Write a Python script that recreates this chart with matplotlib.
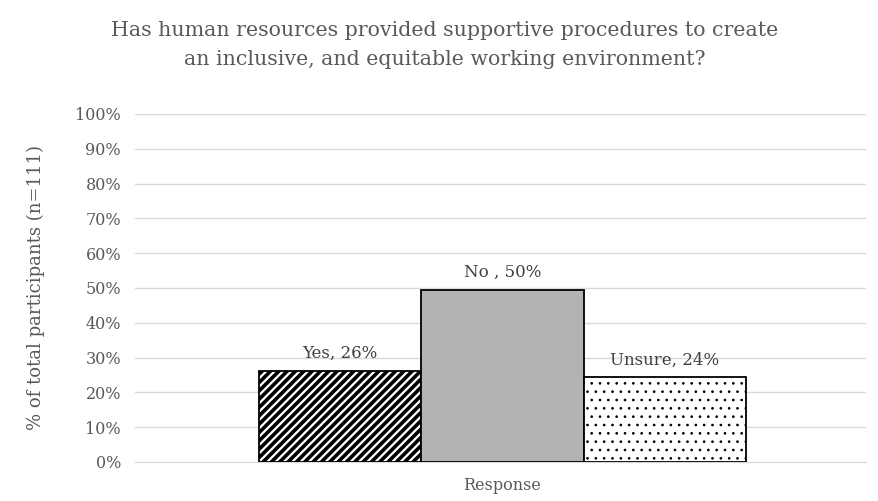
import matplotlib.pyplot as plt
import numpy as np

plt.rcParams['font.family'] = ['DejaVu Serif']

categories = ["Yes", "No ", "Unsure"]
values = [26.1, 49.5, 24.3]
labels = ["Yes, 26%", "No , 50%", "Unsure, 24%"]
colors = ["white", "#b3b3b3", "white"]
hatches = ["////", "", ".."]
hatch_widths = [2.6, 1.0, 0.7]

fig = plt.figure(figsize=(8.79, 5.01), dpi=100)
ax = fig.add_axes([135/879, 1 - 462/501, 731/879, 348/501])

pos = np.arange(len(categories)) - 1
for p, v, c, h, hw in zip(pos, values, colors, hatches, hatch_widths):
    plt.rcParams['hatch.linewidth'] = hw
    ax.bar(p, v, width=1.0, color=c, edgecolor="black", linewidth=1.3, hatch=h, zorder=3)

for p, v, t in zip(pos, values, labels):
    ax.text(p, v + 2.6, t, ha="center", va="bottom", fontsize=12, color="#404040")

ax.set_xlim(-2.262, 2.238)
ax.set_ylim(0, 100)
ax.set_yticks(np.arange(0, 101, 10))
ax.set_yticklabels([f"{t}%" for t in range(0, 101, 10)], fontsize=11.5, color="#595959")
ax.set_xticks([0])
ax.set_xticklabels(["Response"], fontsize=11.5, color="#595959")
ax.tick_params(axis="y", length=0, pad=10)
ax.tick_params(axis="x", length=0, pad=11)
ax.grid(axis="y", color="#d9d9d9", linewidth=1, zorder=0)
for s in ["top", "right", "left"]:
    ax.spines[s].set_visible(False)
ax.spines["bottom"].set_color("#d9d9d9")
ax.set_ylabel("% of total participants (n=111)", fontsize=13, color="#595959", labelpad=22)

fig.text(0.506, 1 - 45/501, "Has human resources provided supportive procedures to create\nan inclusive, and equitable working environment?",
         ha="center", va="center", fontsize=14.8, color="#595959", linespacing=1.65)

fig.savefig("out.png", dpi=100)
